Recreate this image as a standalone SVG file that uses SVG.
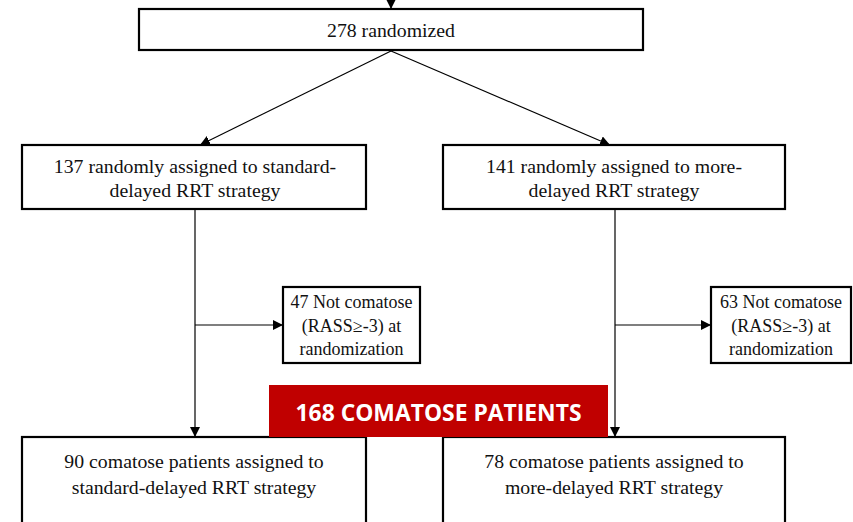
<svg xmlns="http://www.w3.org/2000/svg" width="853" height="522" viewBox="0 0 853 522">
<style>
.box{fill:#fff;stroke:#000;stroke-width:2.2}
.t{font-family:"Liberation Serif","Times New Roman",serif;font-size:19.8px;fill:#111;text-anchor:middle}
.s{font-family:"Liberation Serif","Times New Roman",serif;font-size:18px;fill:#111;text-anchor:middle}
.c{fill:none;stroke:#000;stroke-width:1.2}
.ban{fill:#c00000}
.bt{font-family:"Open Sans","Liberation Sans",sans-serif;font-weight:bold;font-size:24px;fill:#fff;text-anchor:middle}
</style>
<defs>
<marker id="ah" viewBox="0 0 10 10" refX="10" refY="5" markerWidth="10" markerHeight="10" markerUnits="userSpaceOnUse" orient="auto">
<path d="M0,0 L10,5 L0,10 z" fill="#000"/>
</marker>
</defs>
<g id="connectors">
<line class="c" x1="391" y1="0" x2="391" y2="9" marker-end="url(#ah)"/>
<line class="c" x1="391" y1="51" x2="200" y2="145" marker-end="url(#ah)"/>
<line class="c" x1="391" y1="51" x2="610" y2="145" marker-end="url(#ah)"/>
<line class="c" x1="195" y1="209" x2="195" y2="437" marker-end="url(#ah)"/>
<line class="c" x1="615" y1="209" x2="615" y2="437" marker-end="url(#ah)"/>
<line class="c" x1="195" y1="325" x2="283" y2="325" marker-end="url(#ah)"/>
<line class="c" x1="615" y1="325" x2="711" y2="325" marker-end="url(#ah)"/>
</g>
<g id="randomized">
<rect class="box" x="139" y="9" width="504" height="41"/>
<text class="t" x="391" y="36.5">278 randomized</text>
</g>
<g id="standard">
<rect class="box" x="22" y="145" width="344" height="64"/>
<text class="t" x="195" y="173">137 randomly assigned to standard-</text>
<text class="t" x="195" y="197">delayed RRT strategy</text>
</g>
<g id="more">
<rect class="box" x="443" y="145" width="342" height="64"/>
<text class="t" x="614" y="173">141 randomly assigned to more-</text>
<text class="t" x="614" y="197">delayed RRT strategy</text>
</g>
<g id="notcomatose47">
<rect class="box" x="283" y="287" width="137" height="76"/>
<text class="s" x="351.5" y="308">47 Not comatose</text>
<text class="s" x="351.5" y="332">(RASS≥-3) at</text>
<text class="s" x="351.5" y="355">randomization</text>
</g>
<g id="notcomatose63">
<rect class="box" x="711" y="287" width="140" height="76"/>
<text class="s" x="781" y="308">63 Not comatose</text>
<text class="s" x="781" y="332">(RASS≥-3) at</text>
<text class="s" x="781" y="355">randomization</text>
</g>
<g id="comatose90">
<rect class="box" x="22" y="437" width="344" height="100"/>
<text class="t" x="194" y="468">90 comatose patients assigned to</text>
<text class="t" x="194" y="494">standard-delayed RRT strategy</text>
</g>
<g id="comatose78">
<rect class="box" x="443" y="437" width="342" height="100"/>
<text class="t" x="614" y="468">78 comatose patients assigned to</text>
<text class="t" x="614" y="494">more-delayed RRT strategy</text>
</g>
<g id="banner">
<rect class="ban" x="269" y="385" width="339" height="52"/>
<text class="bt" x="438.5" y="420.5" textLength="286" lengthAdjust="spacingAndGlyphs">168 COMATOSE PATIENTS</text>
</g>
</svg>
